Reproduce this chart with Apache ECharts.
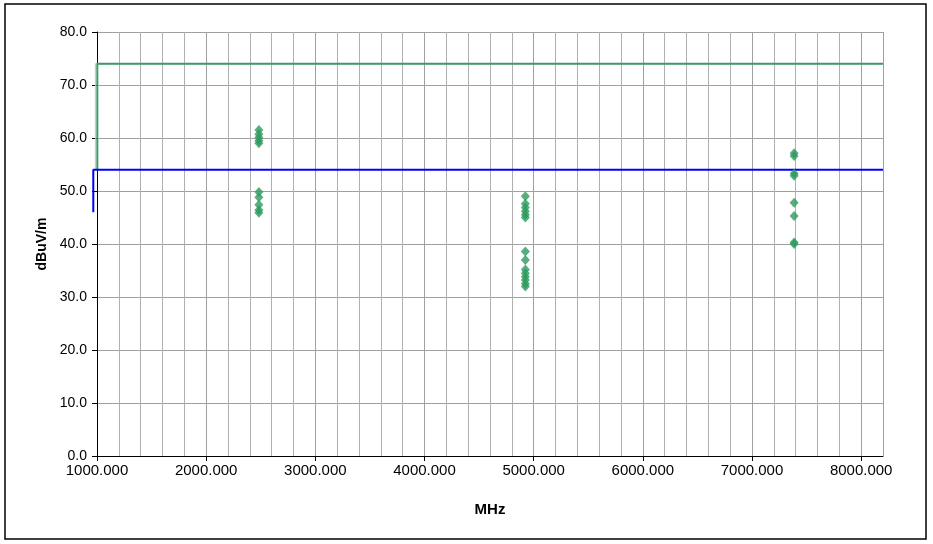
<!DOCTYPE html>
<html>
<head>
<meta charset="utf-8">
<script src="https://cdn.jsdelivr.net/npm/echarts@6/dist/echarts.min.js"></script>
<style>
html,body{margin:0;padding:0;background:#fff;}
#c{width:933px;height:544px;}
</style>
</head>
<body>
<div id="c"></div>
<script>
// Measured data (MHz, dBuV/m)
const freq1 = 2483;
const vals1 = [61.5, 60.7, 60.1, 59.5, 59.0, 49.8, 48.8, 47.4, 46.4, 45.9];
const freq2 = 4924;
const vals2 = [49.0, 47.6, 46.9, 46.2, 45.5, 45.0, 38.6, 37.0, 35.2, 34.5, 33.8, 33.2, 32.5, 32.0];
const freq3 = 7386;
const vals3 = [57.1, 56.6, 53.3, 52.9, 47.8, 45.3, 40.3, 40.0];
// Limit lines
const peakLimit = [[1003, 54], [1003, 74], [8200, 74]];
const peakLimitShadow = [[985, 54], [985, 74], [8200, 74]];
const avgLimit = [[966, 46], [966, 54], [8200, 54]];
const xTicks = [1000, 2000, 3000, 4000, 5000, 6000, 7000, 8000];
const yTicks = [0, 10, 20, 30, 40, 50, 60, 70, 80];

const pts = [];
vals1.forEach(v => pts.push([freq1, v]));
vals2.forEach(v => pts.push([freq2, v]));
vals3.forEach(v => pts.push([freq3, v]));

const FONT = 'Liberation Sans, Arial, sans-serif';
// second (hidden) grid extends 10px left so limit lines can start before 1000 MHz
const G_LEFT = 97, G_RIGHT = 50, EXT = 10;
const xMin2 = 1000 - EXT * (8200 - 1000) / (933 - G_LEFT - G_RIGHT);

const chart = echarts.init(document.getElementById('c'), null, {renderer: 'canvas'});
chart.setOption({
  animation: false,
  backgroundColor: '#fff',
  grid: [
    {left: G_LEFT, right: G_RIGHT, top: 32, bottom: 88, containLabel: false},
    {left: G_LEFT - EXT, right: G_RIGHT, top: 32, bottom: 88, containLabel: false}
  ],
  xAxis: [{
    type: 'value', min: 1000, max: 8200, interval: 1000, gridIndex: 0,
    name: 'MHz', nameLocation: 'middle', nameGap: 46,
    nameTextStyle: {fontFamily: FONT, fontSize: 15, fontWeight: 'bold', color: '#000'},
    axisLine: {show: true, onZero: false, lineStyle: {color: '#000', width: 1}},
    axisTick: {show: true, inside: false, length: 5, lineStyle: {color: '#000'}},
    axisLabel: {
      fontFamily: FONT, fontSize: 15, color: '#000', margin: 7,
      showMaxLabel: false,
      formatter: v => (xTicks.indexOf(v) >= 0 ? v.toFixed(3) : '')
    },
    splitLine: {show: true, lineStyle: {color: '#a0a0a0', width: 1}},
    minorTick: {show: false, splitNumber: 5},
    minorSplitLine: {show: true, lineStyle: {color: '#b0b0b0', width: 1}}
  }, {
    type: 'value', min: xMin2, max: 8200, gridIndex: 1, show: false,
    splitLine: {show: false}
  }],
  yAxis: [{
    type: 'value', min: 0, max: 80, interval: 10, gridIndex: 0,
    name: 'dBuV/m', nameLocation: 'middle', nameGap: 48, nameRotate: 90,
    nameTextStyle: {fontFamily: FONT, fontSize: 14, fontWeight: 'bold', color: '#000'},
    axisLine: {show: true, onZero: false, lineStyle: {color: '#000', width: 1}},
    axisTick: {show: true, inside: false, length: 5, lineStyle: {color: '#000'}},
    axisLabel: {
      fontFamily: FONT, fontSize: 14, color: '#000', margin: 10,
      formatter: v => (yTicks.indexOf(v) >= 0 ? v.toFixed(1) : '')
    },
    splitLine: {show: true, lineStyle: {color: '#a0a0a0', width: 1}}
  }, {
    type: 'value', min: 0, max: 80, gridIndex: 1, show: false,
    splitLine: {show: false}
  }],
  graphic: [{
    type: 'rect', z: 100, silent: true,
    shape: {x: 5, y: 4, width: 921, height: 535},
    style: {fill: 'none', stroke: '#000', lineWidth: 1.5}
  }],
  series: [
    {
      type: 'line', data: peakLimitShadow, xAxisIndex: 1, yAxisIndex: 1, symbol: 'none',
      lineStyle: {color: '#d8bfa6', width: 1}, z: 2
    },
    {
      type: 'line', data: peakLimit, xAxisIndex: 1, yAxisIndex: 1, symbol: 'none',
      lineStyle: {color: '#3c9a66', width: 2}, z: 3
    },
    {
      type: 'line', data: avgLimit, xAxisIndex: 1, yAxisIndex: 1, symbol: 'none',
      lineStyle: {color: '#0000ff', width: 2}, z: 3
    },
    {
      type: 'scatter', data: pts, symbol: 'diamond', symbolSize: [9, 10],
      itemStyle: {color: '#2e9a5e'}, z: 4
    }
  ]
});
</script>
</body>
</html>
